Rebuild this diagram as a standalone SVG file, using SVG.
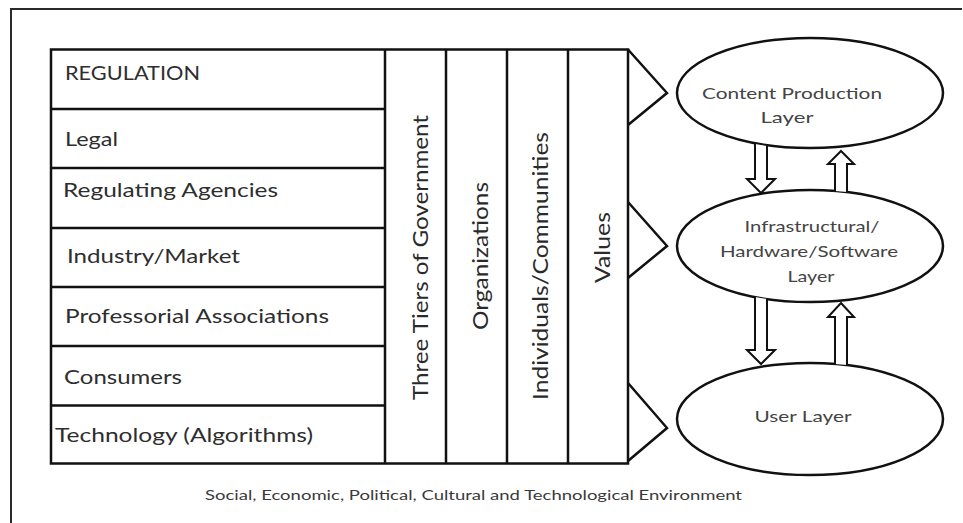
<svg xmlns="http://www.w3.org/2000/svg" width="963" height="523" viewBox="0 0 963 523">
  <style>
    .frame { fill: none; stroke: #2a2a2a; stroke-width: 2; }
    .grid { fill: none; stroke: #111; stroke-width: 2.5; }
    .cell { fill: #fff; stroke: #111; stroke-width: 2.5; }
    .tri { fill: none; stroke: #111; stroke-width: 2.5; stroke-linejoin: miter; }
    .layer { fill: #fff; stroke: #111; stroke-width: 2.5; }
    .blk { fill: #fff; stroke: #111; stroke-width: 2; stroke-linejoin: miter; }
    .row { font-family: Lato, "Open Sans", "Liberation Sans", sans-serif; font-size: 20px; fill: #2e2e2e; }
    .col { font-family: Lato, "Open Sans", "Liberation Sans", sans-serif; font-size: 22px; fill: #2a2a2a; }
    .lay { font-family: Lato, "Open Sans", "Liberation Sans", sans-serif; font-size: 16px; fill: #444; }
    .cap { font-family: Lato, "Open Sans", "Liberation Sans", sans-serif; font-size: 14px; fill: #3a3a3a; }
  </style>

  <!-- environment frame (top and left edges) -->
  <path class="frame" d="M11,523 V9 H962"/>

  <!-- regulation rows -->
  <g id="regulation-table">
    <rect class="cell" x="51" y="49.5" width="577" height="414"/>
    <path class="grid" d="M51,109 H385 M51,168 H385 M51,228 H385 M51,287 H385 M51,346 H385 M51,405.5 H385"/>
  </g>
  <g id="row-regulation"><text class="row" x="65" y="80" textLength="135" lengthAdjust="spacingAndGlyphs">REGULATION</text></g>
  <g id="row-legal"><text class="row" x="65" y="146" textLength="53" lengthAdjust="spacingAndGlyphs">Legal</text></g>
  <g id="row-agencies"><text class="row" x="63" y="197" textLength="215" lengthAdjust="spacingAndGlyphs">Regulating Agencies</text></g>
  <g id="row-industry"><text class="row" x="67" y="263" textLength="173" lengthAdjust="spacingAndGlyphs">Industry/Market</text></g>
  <g id="row-professional"><text class="row" x="65" y="323" textLength="264" lengthAdjust="spacingAndGlyphs">Professorial  Associations</text></g>
  <g id="row-consumers"><text class="row" x="64" y="384" textLength="118" lengthAdjust="spacingAndGlyphs">Consumers</text></g>
  <g id="row-technology"><text class="row" x="55" y="442" textLength="258" lengthAdjust="spacingAndGlyphs">Technology (Algorithms)</text></g>

  <!-- vertical actor columns -->
  <g id="col-government">
    <line class="grid" x1="385" y1="49.5" x2="385" y2="463.5"/>
    <text class="col" transform="translate(428,400) rotate(-90)" textLength="285" lengthAdjust="spacingAndGlyphs">Three Tiers of Government</text>
  </g>
  <g id="col-organizations">
    <line class="grid" x1="446" y1="49.5" x2="446" y2="463.5"/>
    <text class="col" transform="translate(488,330) rotate(-90)" textLength="148" lengthAdjust="spacingAndGlyphs">Organizations</text>
  </g>
  <g id="col-individuals">
    <line class="grid" x1="507" y1="49.5" x2="507" y2="463.5"/>
    <text class="col" transform="translate(548,400) rotate(-90)" textLength="268" lengthAdjust="spacingAndGlyphs">Individuals/Communities</text>
  </g>
  <g id="col-values">
    <line class="grid" x1="568" y1="49.5" x2="568" y2="463.5"/>
    <text class="col" transform="translate(610,283) rotate(-90)" textLength="71" lengthAdjust="spacingAndGlyphs">Values</text>
  </g>

  <!-- layer ellipses -->
  <g id="layer-content">
    <ellipse class="layer" cx="810" cy="93" rx="133" ry="55"/>
    <text class="lay" x="792" y="99" text-anchor="middle" textLength="180" lengthAdjust="spacingAndGlyphs">Content Production</text>
    <text class="lay" x="787" y="123" text-anchor="middle" textLength="53" lengthAdjust="spacingAndGlyphs">Layer</text>
  </g>
  <g id="layer-infrastructure">
    <ellipse class="layer" cx="810" cy="246" rx="133" ry="56"/>
    <text class="lay" x="812" y="232" text-anchor="middle" textLength="135" lengthAdjust="spacingAndGlyphs">Infrastructural/</text>
    <text class="lay" x="809" y="257" text-anchor="middle" textLength="178" lengthAdjust="spacingAndGlyphs">Hardware/Software</text>
    <text class="lay" x="811" y="282" text-anchor="middle" textLength="47" lengthAdjust="spacingAndGlyphs">Layer</text>
  </g>
  <g id="layer-user">
    <ellipse class="layer" cx="810" cy="419" rx="133" ry="56"/>
    <text class="lay" x="803" y="422" text-anchor="middle" textLength="97" lengthAdjust="spacingAndGlyphs">User Layer</text>
  </g>

  <!-- connectors: influence chevrons and block arrows between layers -->
  <g id="connectors">
    <polyline class="tri" points="628,49.5 667,93 628,125"/>
    <polyline class="tri" points="628,202 667,246 628,278"/>
    <polyline class="tri" points="628,383 667,428 628,461"/>
    <path class="blk" d="M755,144 V179 H747 L761,193 L775,179 H767 V146"/>
    <path class="blk" d="M835,191 V164 H828 L841,151 L854,164 H847 V192"/>
    <path class="blk" d="M755,297 V350 H747 L761,364 L775,350 H767 V299"/>
    <path class="blk" d="M835,364 V317 H828 L841,303 L854,317 H847 V365"/>
  </g>

  <!-- environment caption -->
  <g id="environment-caption">
    <text class="cap" x="205" y="500" textLength="537" lengthAdjust="spacingAndGlyphs">Social, Economic, Political, Cultural and Technological Environment</text>
  </g>
</svg>
